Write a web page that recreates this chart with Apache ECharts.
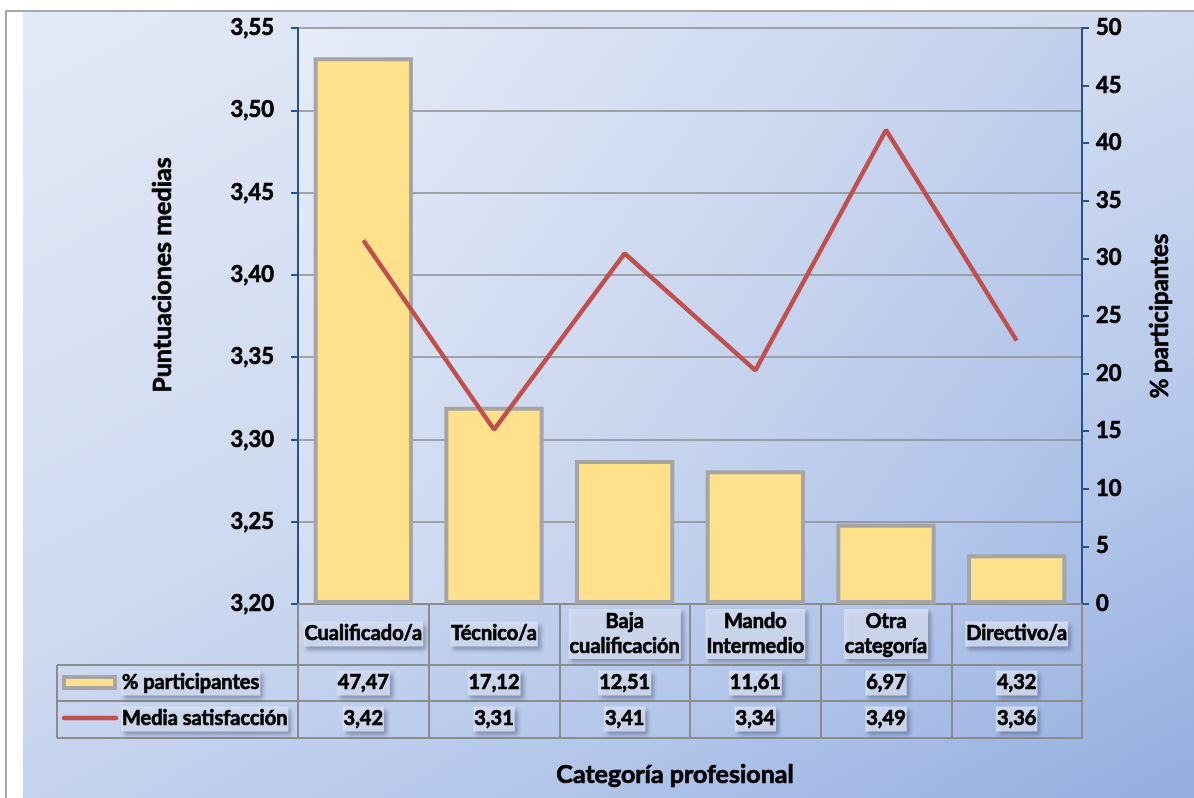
<!DOCTYPE html>
<html>
<head>
<meta charset="utf-8">
<script src="https://cdn.jsdelivr.net/npm/echarts@6/dist/echarts.min.js"></script>
<style>
html,body{margin:0;padding:0;background:#fff;}
#wrap{position:absolute;left:0;top:0;width:1194px;height:798px;overflow:hidden;background:#fff;}
#frame{position:absolute;left:5px;top:10px;width:1189px;height:788px;border-left:2px solid #a8a8a8;border-top:2px solid #a8a8a8;}
#bg{position:absolute;left:23px;top:12px;width:1171px;height:786px;background:linear-gradient(152deg,#e3e9f6 0%,#cfdaf0 45%,#b3c6ea 75%,#93addf 100%);}
#chart{position:absolute;left:0;top:0;width:1194px;height:798px;}
</style>
</head>
<body>
<div id="wrap"><div id="frame"></div><div id="bg"></div><div id="chart"></div></div>
<script>
var categories = ['Cualificado/a', 'Técnico/a', 'Baja\ncualificación', 'Mando\nIntermedio', 'Otra\ncategoría', 'Directivo/a'];
var participantes = [47.47, 17.12, 12.51, 11.61, 6.97, 4.32];
var satisfaccion = [3.421, 3.306, 3.413, 3.342, 3.488, 3.360];
var seriesNames = ['% participantes', 'Media satisfacción'];
var leftAxisTitle = 'Puntuaciones medias';
var rightAxisTitle = '% participantes';
var xAxisTitle = 'Categoría profesional';

var FONT = 'Lato, "Open Sans", sans-serif';
var W = 'bold';
var SW = 0.7; // faux-heavier stroke
var fmt = function (v) { return v.toFixed(2).replace('.', ','); };

var chart = echarts.init(document.getElementById('chart'), null, {renderer: 'canvas'});
var GL = 298, GR = 1082, GT = 28, GB = 604;
chart.setOption({
  backgroundColor: 'transparent',
  animation: false,
  grid: {
    left: GL, right: 1194 - GR, top: GT, bottom: 798 - GB,
    show: true, borderWidth: 0,
    backgroundColor: new echarts.graphic.LinearGradient(0, 0, 1, 1, [
      {offset: 0, color: '#e6ecf8'},
      {offset: 0.5, color: '#cbd7ef'},
      {offset: 1, color: '#a7bde7'}
    ])
  },
  xAxis: {
    type: 'category',
    data: categories,
    boundaryGap: true,
    axisLine: {show: true, lineStyle: {color: '#8c8c8c', width: 2}},
    axisTick: {show: true, alignWithLabel: false, length: 134, lineStyle: {color: '#8c8c8c', width: 2}},
    axisLabel: {show: false},
    splitLine: {show: false}
  },
  yAxis: [{
    type: 'value',
    min: 3.2, max: 3.55, interval: 0.05,
    position: 'left',
    axisLine: {show: true, lineStyle: {color: '#25528f', width: 2}},
    axisTick: {show: true, length: 7, lineStyle: {color: '#25528f', width: 2}},
    axisLabel: {formatter: fmt, color: '#000', fontFamily: FONT, fontWeight: W, fontSize: 22, margin: 24,
      textBorderColor: '#000', textBorderWidth: SW},
    splitLine: {show: true, lineStyle: {color: '#8c8c8c', width: 1.5}}
  }, {
    type: 'value',
    min: 0, max: 50, interval: 5,
    position: 'right',
    axisLine: {show: true, lineStyle: {color: '#25528f', width: 2}},
    axisTick: {show: true, length: 7, lineStyle: {color: '#25528f', width: 2}},
    axisLabel: {color: '#000', fontFamily: FONT, fontWeight: W, fontSize: 22, margin: 14,
      textBorderColor: '#000', textBorderWidth: SW},
    splitLine: {show: false}
  }],
  series: [{
    name: seriesNames[0],
    type: 'bar',
    yAxisIndex: 1,
    data: participantes,
    barWidth: '76%',
    itemStyle: {color: '#ffe18b', borderColor: '#a5a5a5', borderWidth: 4}
  }, {
    name: seriesNames[1],
    type: 'line',
    yAxisIndex: 0,
    data: satisfaccion,
    symbol: 'none',
    lineStyle: {color: '#c0504d', width: 4.5},
    itemStyle: {color: '#c0504d'},
    z: 5
  }]
});

function txt(x, y, s, size, rot) {
  return {
    type: 'text', x: x, y: y, rotation: rot || 0, z: 20,
    style: {
      text: s, fill: '#000', font: W + ' ' + size + 'px ' + FONT,
      stroke: '#000', lineWidth: SW,
      align: 'center', verticalAlign: 'middle', textAlign: 'center', textVerticalAlign: 'middle',
      lineHeight: 25
    }
  };
}
function boxTxt(x, y, s, size, align) {
  var t = txt(x, y, s, size);
  t.style.align = align || 'center';
  t.style.textAlign = align || 'center';
  t.style.backgroundColor = 'rgba(214,225,244,0.85)';
  t.style.shadowColor = 'rgba(40,50,80,0.45)';
  t.style.shadowBlur = 4;
  t.style.shadowOffsetX = 3;
  t.style.shadowOffsetY = 3;
  t.style.padding = [0, 1, 0, 1];
  return t;
}

var els = [];
var rowY = [634, 683, 719];
for (var i = 0; i < categories.length; i++) {
  var cx = chart.convertToPixel({xAxisIndex: 0}, i);
  els.push(boxTxt(cx, rowY[0], categories[i], 20));
  els.push(boxTxt(cx, rowY[1], fmt(participantes[i]), 20));
  els.push(boxTxt(cx, rowY[2], fmt(satisfaccion[i]), 20));
}
var lineStyle = {stroke: '#8c8c8c', lineWidth: 2};
[665, 701, 738].forEach(function (y) {
  els.push({type: 'line', z: 10, shape: {x1: 57, y1: y, x2: GR + 1, y2: y}, style: lineStyle});
});
els.push({type: 'line', z: 10, shape: {x1: 57, y1: 665, x2: 57, y2: 738}, style: lineStyle});
// legend keys
els.push({type: 'rect', z: 10, shape: {x: 64, y: 677, width: 51, height: 11}, style: {fill: '#ffe18b', stroke: '#a5a5a5', lineWidth: 4}});
els.push({type: 'line', z: 10, shape: {x1: 64, y1: 718, x2: 116, y2: 718}, style: {stroke: '#c0504d', lineWidth: 4.5, lineCap: 'round'}});
els.push(boxTxt(121, 683, seriesNames[0], 20, 'left'));
els.push(boxTxt(121, 719, seriesNames[1], 20, 'left'));
// titles
els.push(txt(675, 775, xAxisTitle, 25));
els.push(txt(163, 275, leftAxisTitle, 25, Math.PI / 2));
els.push(txt(1160, 316, rightAxisTitle, 24, Math.PI / 2));

chart.setOption({graphic: {elements: els}});
</script>
</body>
</html>
